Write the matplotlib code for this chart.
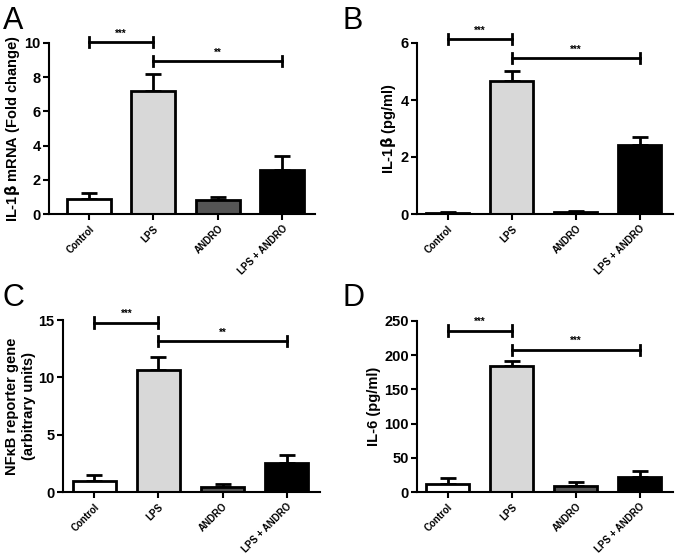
import matplotlib
matplotlib.use('Agg')
import matplotlib.pyplot as plt

plt.rcParams['font.family'] = ['Liberation Sans', 'DejaVu Sans']

groups = ['Control', 'LPS', 'ANDRO', 'LPS + ANDRO']
colors = ['white', '#d8d8d8', '#555555', 'black']

# panel A: IL-1b mRNA
a_mean = [0.86, 7.2, 0.82, 2.6]
a_err = [0.36, 1.0, 0.18, 0.82]
# panel B: IL-1b protein
b_mean = [0.05, 4.65, 0.06, 2.41]
b_err = [0.03, 0.37, 0.04, 0.29]
# panel C: NFkB reporter
c_mean = [0.96, 10.6, 0.44, 2.5]
c_err = [0.55, 1.15, 0.29, 0.73]
# panel D: IL-6
d_mean = [12.0, 184.5, 9.0, 22.0]
d_err = [8.0, 6.5, 5.0, 8.0]

fig = plt.figure(figsize=(6.75, 5.57), dpi=100)

W, H = 675.0, 557.0

def make_ax(x0, x1, ytop, ybot):
    return fig.add_axes([x0 / W, 1 - ybot / H, (x1 - x0) / W, (ybot - ytop) / H])

panels = [
    # letter, axes box, xlim, ylim, ticks, ylabel, mean, err, brackets
    ('A', (49, 315, 43, 214), (-0.62, 3.51), 10, [0, 2, 4, 6, 8, 10],
     r'IL-1$\mathbf{\beta}$ mRNA (Fold change)', a_mean, a_err,
     [(0, 1, 10.05, '***'), (1, 3, 8.95, '**')], (3, 6)),
    ('B', (417, 673, 43, 214), (-0.48, 3.52), 6, [0, 2, 4, 6],
     r'IL-1$\mathbf{\beta}$ (pg/ml)', b_mean, b_err,
     [(0, 1, 6.14, '***'), (1, 3, 5.48, '***')], (342, 6)),
    ('C', (63, 320, 320, 492), (-0.49, 3.52), 15, [0, 5, 10, 15],
     'NF\u03baB reporter gene\n(arbitrary units)', c_mean, c_err,
     [(0, 1, 14.77, '***'), (1, 3, 13.14, '**')], (3, 283)),
    ('D', (417, 673, 321, 492), (-0.48, 3.52), 250, [0, 50, 100, 150, 200, 250],
     'IL-6 (pg/ml)', d_mean, d_err,
     [(0, 1, 236, '***'), (1, 3, 208, '***')], (342, 283)),
]

x = list(range(len(groups)))
for letter, box, xl, ymax, ticks, ylabel, mean, err, brackets, lpos in panels:
    ax = make_ax(*box)
    ax.bar(x, mean, width=0.68, color=colors, edgecolor='black', linewidth=2, zorder=2)
    ax.errorbar(x, mean, yerr=[[0] * 4, err], fmt='none', ecolor='black',
                elinewidth=2, capsize=5.5, capthick=2, zorder=1)
    ax.set_xlim(*xl)
    ax.set_ylim(0, ymax)
    ax.set_yticks(ticks)
    ax.set_xticks(x)
    ax.set_xticklabels(groups, rotation=45, ha='right', rotation_mode='anchor',
                       fontsize=7, fontweight='bold')
    for lab in ax.get_yticklabels():
        lab.set_fontweight('bold')
        lab.set_fontsize(10.5)
    ax.set_ylabel(ylabel, fontsize=10.5, fontweight='bold', labelpad=2)
    for s in ['top', 'right']:
        ax.spines[s].set_visible(False)
    for s in ['left', 'bottom']:
        ax.spines[s].set_linewidth(1.5)
    ax.tick_params(width=1.5, length=4, pad=2)
    ax.tick_params(axis='x', pad=3)
    dh = ymax * 0.03
    for i, j, y, txt in brackets:
        ax.plot([i, j], [y, y], color='black', lw=2, clip_on=False)
        ax.plot([i, i], [y - dh, y + dh], color='black', lw=2, clip_on=False)
        ax.plot([j, j], [y - dh, y + dh], color='black', lw=2, clip_on=False)
        ax.text((i + j) / 2, y + ymax * 0.02, txt, ha='center', va='bottom',
                fontsize=7, fontweight='bold', clip_on=False)
    fig.text(lpos[0] / W, 1 - lpos[1] / H, letter, fontsize=22, ha='left', va='top')

fig.savefig('out.png', dpi=100)
